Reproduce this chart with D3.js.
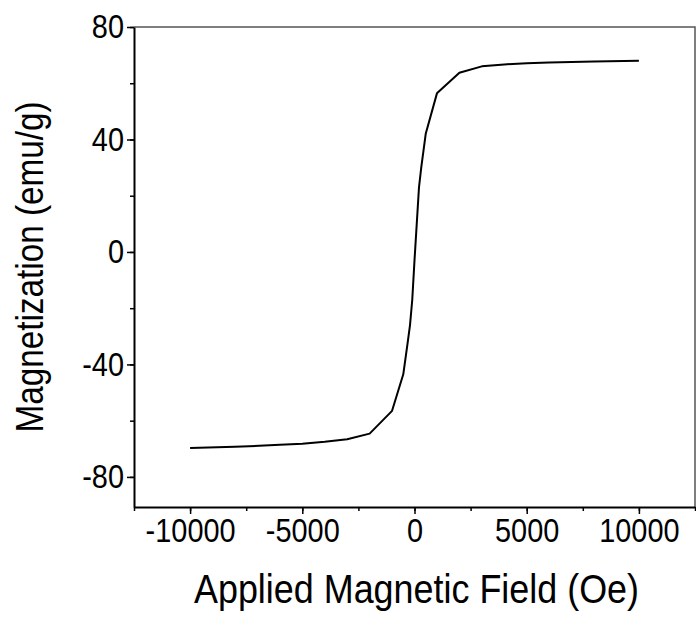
<!DOCTYPE html>
<html lang="en">
<head>
  <meta charset="UTF-8">
  <title>Magnetization curve</title>
  <script src="https://d3js.org/d3.v7.min.js"></script>
  <style>
    body { margin: 0; background: #fff; }
    text { font-family: "Liberation Sans", Arial, sans-serif; fill: #000; }
  </style>
</head>
<body>
  <div id="chart"></div>
  <script>
    // applied field (Oe) and magnetization (emu/g)
    const field = [-10000, -8000, -6000, -5000, -4000, -3000, -2000, -1000, -500, -300, -200, -100,
                   0, 100, 200, 300, 500, 1000, 2000, 3000, 4000, 5000, 6000, 8000, 10000];
    const magnetization = [-69.7, -69.3, -68.6, -68.2, -67.5, -66.6, -64.6, -56.5, -43.5, -32, -26, -17,
                           -3, 10, 23, 30, 42, 56.4, 63.7, 66, 66.7, 67.1, 67.4, 67.7, 68];
    const xTicks = [-10000, -5000, 0, 5000, 10000];
    const yTicks = [-80, -40, 0, 40, 80];

    const width = 696, height = 619;
    const margin = { top: 27, right: 1, bottom: 112, left: 134 };
    const squeeze = 0.876; // the original text is horizontally compressed

    const svg = d3.select("#chart").append("svg")
      .attr("width", width)
      .attr("height", height);

    const x = d3.scaleLinear()
      .domain([-12500, 12500])
      .range([margin.left, width - margin.right]);

    const y = d3.scaleLinear()
      .domain([-90.7, 80])
      .range([height - margin.bottom, margin.top]);

    // frame on top and right
    svg.append("path")
      .attr("d", `M${x(-12500)},${y(80)}H${x(12500)}V${y(-90.7)}`)
      .attr("fill", "none")
      .attr("stroke", "#555")
      .attr("stroke-width", 1.5);

    // minor ticks
    const xAxisMinor = d3.axisBottom(x).tickValues(d3.range(-12500, 12501, 2500))
      .tickSize(4).tickFormat("");
    const yAxisMinor = d3.axisLeft(y).tickValues(d3.range(-80, 81, 20))
      .tickSize(4).tickFormat("");

    svg.append("g")
      .attr("transform", `translate(0,${y(-90.7)})`)
      .call(xAxisMinor)
      .call(g => g.select(".domain").remove())
      .selectAll("line").attr("stroke-width", 1.5);

    svg.append("g")
      .attr("transform", `translate(${x(-12500)},0)`)
      .call(yAxisMinor)
      .call(g => g.select(".domain").remove())
      .selectAll("line").attr("stroke-width", 1.5);

    // major axes
    const gx = svg.append("g")
      .attr("transform", `translate(0,${y(-90.7)})`)
      .call(d3.axisBottom(x).tickValues(xTicks).tickFormat(d => String(d))
        .tickSize(7).tickSizeOuter(0).tickPadding(5));

    const gy = svg.append("g")
      .attr("transform", `translate(${x(-12500)},0)`)
      .call(d3.axisLeft(y).tickValues(yTicks).tickFormat(d => String(d))
        .tickSize(7).tickSizeOuter(0).tickPadding(3));

    [gx, gy].forEach(g => {
      g.select(".domain").attr("stroke-width", 2);
      g.selectAll("line").attr("stroke-width", 1.5);
      g.selectAll("text")
        .attr("font-size", 33)
        .style("font-family", '"Liberation Sans", Arial, sans-serif')
        .attr("transform", `scale(${squeeze},1)`);
    });
    gy.selectAll("text").attr("x", -10 / squeeze);

    // curve
    const points = field.map((f, i) => [f, magnetization[i]]);
    svg.append("path")
      .datum(points)
      .attr("fill", "none")
      .attr("stroke", "#000")
      .attr("stroke-width", 2)
      .attr("stroke-linejoin", "round")
      .attr("d", d3.line().x(d => x(d[0])).y(d => y(d[1])));

    // axis titles
    const plotMidX = (x(-12500) + x(12500)) / 2;
    svg.append("text")
      .attr("transform", `translate(${plotMidX + 2},603) scale(${squeeze},1)`)
      .attr("text-anchor", "middle")
      .attr("font-size", 41)
      .text("Applied Magnetic Field (Oe)");

    svg.append("text")
      .attr("transform", `translate(43,${(y(80) + y(-90.7)) / 2}) rotate(-90) scale(${squeeze},1)`)
      .attr("text-anchor", "middle")
      .attr("font-size", 38)
      .text("Magnetization (emu/g)");
  </script>
</body>
</html>
